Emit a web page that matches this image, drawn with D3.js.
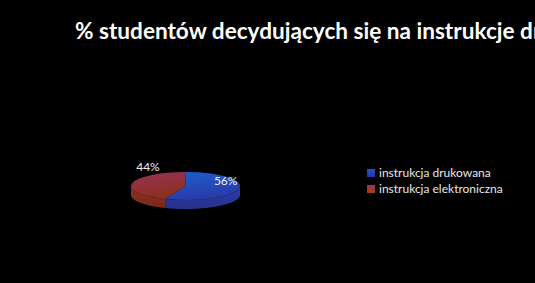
<!DOCTYPE html>
<html><head><meta charset="utf-8">
<script src="https://cdn.jsdelivr.net/npm/d3@7"></script>
<style>html,body{margin:0;padding:0;background:#000;overflow:hidden}</style>
</head><body>
<svg id="c" width="535" height="283"></svg>
<script>
const title = "% studentów decydujących się na instrukcje drukowaną i elektroniczną";
const categories = ["instrukcja drukowana", "instrukcja elektroniczna"];
const values = [56, 44];
const labels = ["56%", "44%"];
const topColors = [["#1f5fd0", "#2a3aa8"], ["#983258", "#8a3020"]];
const sideColors = [["#2a3fb0", "#283088"], ["#8a2e30", "#7a2a10"]];
const legendColors = [["#1a5ad0", "#3030a0"], ["#a83058", "#a04010"]];

const svg = d3.select("#c");
svg.append("rect").attr("width", 535).attr("height", 283).attr("fill", "#000");
const defs = svg.append("defs");
function grad(id, c, x1, y1, x2, y2) {
  const g = defs.append("linearGradient").attr("id", id)
    .attr("x1", x1).attr("y1", y1).attr("x2", x2).attr("y2", y2);
  g.append("stop").attr("offset", "0%").attr("stop-color", c[0]);
  g.append("stop").attr("offset", "100%").attr("stop-color", c[1]);
}
topColors.forEach((c, i) => grad("t" + i, c, "0", "0", "0.3", "1"));
sideColors.forEach((c, i) => grad("s" + i, c, "0", "0", "0", "1"));
legendColors.forEach((c, i) => grad("l" + i, c, "0", "0", "0", "1"));

svg.append("text").attr("x", 75).attr("y", 39)
  .attr("font-family", "Lato").attr("font-weight", "bold").attr("font-size", 22.6)
  .attr("fill", "#fff").text(title);

const cx = 185.5, cy = 186, rx = 54.5, ry = 14, depth = 9;
const pie = d3.pie().sort(null).value(d => d);
const arcs = pie(values);

function ept(a, yoff) { return [cx + rx * Math.sin(a), cy - ry * Math.cos(a) + yoff]; }

const g = svg.append("g");
arcs.forEach((d, i) => {
  const a0 = Math.max(d.startAngle, Math.PI / 2), a1 = Math.min(d.endAngle, 3 * Math.PI / 2);
  if (a1 <= a0) return;
  const n = 40, top = [], bot = [];
  for (let k = 0; k <= n; k++) {
    const a = a0 + (a1 - a0) * k / n;
    top.push(ept(a, 0)); bot.push(ept(a, depth));
  }
  const pts = top.concat(bot.reverse());
  g.append("path").attr("d", d3.line()(pts) + "Z").attr("fill", `url(#s${i})`);
});
const arc = d3.arc().innerRadius(0).outerRadius(rx);
arcs.forEach((d, i) => {
  g.append("path").attr("d", arc(d))
    .attr("transform", `translate(${cx},${cy}) scale(1,${ry / rx})`)
    .attr("fill", `url(#t${i})`);
});

const labelOffsets = [[0, -3], [16, -12]];
const labelR = [0.75, 1.0];
arcs.forEach((d, i) => {
  const m = (d.startAngle + d.endAngle) / 2;
  const [x, y] = [cx + rx * labelR[i] * Math.sin(m), cy - ry * labelR[i] * Math.cos(m)];
  svg.append("text").attr("x", x + labelOffsets[i][0]).attr("y", y + labelOffsets[i][1])
    .attr("text-anchor", "middle").attr("font-family", "Lato").attr("font-size", 12)
    .attr("fill", "#f0f0f0").text(labels[i]);
});

const ly = d3.scalePoint().domain(categories).range([169, 185]);
categories.forEach((c, i) => {
  svg.append("rect").attr("x", 367).attr("y", ly(c)).attr("width", 8).attr("height", 8)
    .attr("fill", `url(#l${i})`);
  svg.append("text").attr("x", 379).attr("y", ly(c) + 7.5)
    .attr("font-family", "Lato").attr("font-size", 12).attr("fill", "#e8e8e8").text(c);
});
</script>
</body></html>
